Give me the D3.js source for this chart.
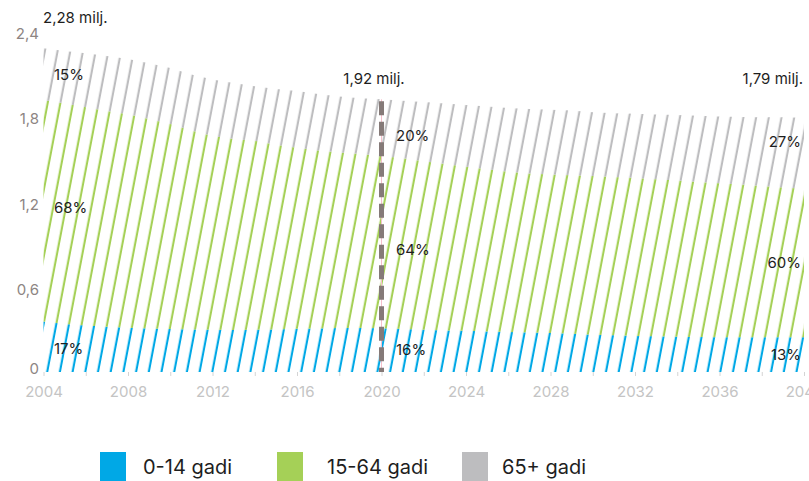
<!DOCTYPE html>
<html>
<head>
<meta charset="utf-8">
<script src="https://cdn.jsdelivr.net/npm/d3@7"></script>
<style>
  body { margin: 0; background: #fff; }
  svg { display: block; font-family: Inter, "Open Sans", sans-serif; }
</style>
</head>
<body>
<div id="chart"></div>
<script>
// population in millions, by year
var years = d3.range(2004, 2041);
var age0_14 = [0.355, 0.338, 0.327, 0.318, 0.311, 0.306, 0.303, 0.299, 0.297, 0.296,
               0.297, 0.300, 0.304, 0.307, 0.309, 0.309, 0.308, 0.303, 0.297, 0.293,
               0.290, 0.286, 0.282, 0.278, 0.274, 0.269, 0.263, 0.258, 0.254, 0.251,
               0.249, 0.247, 0.245, 0.244, 0.244, 0.244, 0.244];
var age15_64 = [1.560, 1.552, 1.537, 1.520, 1.504, 1.476, 1.443, 1.401, 1.365, 1.344,
                1.331, 1.300, 1.276, 1.253, 1.237, 1.226, 1.214, 1.202, 1.188, 1.172,
                1.156, 1.142, 1.128, 1.120, 1.116, 1.116, 1.117, 1.115, 1.112, 1.106,
                1.099, 1.091, 1.084, 1.076, 1.066, 1.056, 1.046];
var age65 = [0.365, 0.370, 0.381, 0.387, 0.390, 0.393, 0.394, 0.395, 0.398, 0.395,
             0.384, 0.393, 0.398, 0.398, 0.394, 0.393, 0.398, 0.405, 0.417, 0.425,
             0.434, 0.442, 0.450, 0.454, 0.457, 0.457, 0.450, 0.450, 0.452, 0.457,
             0.462, 0.467, 0.471, 0.476, 0.484, 0.494, 0.500];

var seriesKeys = ['a', 'b', 'c'];
var seriesNames = ['0-14 gadi', '15-64 gadi', '65+ gadi'];
var colors = ['#00a8e6', '#a5d057', '#bdbdbf'];

var yTicks = [0, 0.6, 1.2, 1.8, 2.4];
var xTicks = d3.range(2004, 2041, 2);
var xLabels = [2004, 2008, 2012, 2016, 2020, 2024, 2028, 2032, 2036, 2040];

// annotations
var markYears = [2004, 2020, 2040];
var totalLabels = ['2,28 milj.', '1,92 milj.', '1,79 milj.'];
var shareLabels = [[17, 16, 13], [68, 64, 60], [15, 20, 27]];

var width = 809,
    height = 481;

var rows = years.map(function(yr, i) {
    return { year: yr, a: age0_14[i], b: age15_64[i], c: age65[i] };
});
var stacked = d3.stack().keys(seriesKeys)(rows);

var x = d3.scaleLinear().domain([2004, 2040]).range([43.5, 804]);
var y = d3.scaleLinear().domain([0, 2.4]).range([372, 31.2]);

var svg = d3.select('#chart').append('svg')
    .attr('width', width)
    .attr('height', height);

// slanted stripe fills, one per series, sharing the same phase
var defs = svg.append('defs');
colors.forEach(function(c, i) {
    defs.append('pattern')
        .attr('id', 'stripe' + i)
        .attr('patternUnits', 'userSpaceOnUse')
        .attr('width', 12.7)
        .attr('height', 20)
        .attr('patternTransform', 'skewX(-10.8)')
        .append('rect')
        .attr('x', 2.7)
        .attr('y', 0)
        .attr('width', 2.2)
        .attr('height', 20)
        .attr('fill', c);
});

var area = d3.area()
    .x(function(d) { return x(d.data.year); })
    .y0(function(d) { return y(d[0]); })
    .y1(function(d) { return y(d[1]); });

svg.append('g').selectAll('path')
    .data(stacked)
    .enter().append('path')
    .attr('d', area)
    .attr('fill', function(d, i) { return 'url(#stripe' + i + ')'; });

// 2020 marker
var iMid = years.indexOf(2020);
var topMid = stacked[2][iMid][1];
svg.append('line')
    .attr('x1', x(2020)).attr('x2', x(2020))
    .attr('y1', y(topMid)).attr('y2', y(0))
    .attr('stroke', '#f6bfcb')
    .attr('stroke-width', 1);
svg.append('line')
    .attr('x1', x(2020)).attr('x2', x(2020))
    .attr('y1', y(topMid) + 2).attr('y2', y(0))
    .attr('stroke', '#857a78')
    .attr('stroke-width', 5)
    .attr('stroke-dasharray', '14,6.5');

// axes
var fmt = d3.formatLocale({ decimal: ',', thousands: ' ', grouping: [3], currency: ['', ''] }).format('.1~f');

var yAxis = svg.append('g')
    .attr('transform', 'translate(39,0)')
    .call(d3.axisLeft(y).tickValues(yTicks).tickSize(0).tickPadding(0).tickFormat(fmt));
yAxis.select('.domain').remove();
yAxis.selectAll('text')
    .attr('fill', '#8d8583')
    .attr('dy', function(d) { return d === 0 ? '0.1em' : '0.5em'; })
    .style('font-size', '15px')
    .style('font-family', 'Inter, sans-serif');

var xAxis = svg.append('g')
    .attr('transform', 'translate(0,' + y(0) + ')')
    .call(d3.axisBottom(x).tickValues(xTicks).tickSize(4).tickPadding(10)
        .tickFormat(function(d) { return xLabels.indexOf(d) >= 0 ? d : ''; }));
xAxis.select('.domain').remove();
xAxis.selectAll('line').attr('stroke', '#d4d4d4');
xAxis.selectAll('text')
    .attr('fill', '#c4c4c4')
    .style('font-size', '15px')
    .style('font-family', 'Inter, sans-serif');

// total labels
var totalPos = [
    { anchor: 'start', dx: -0.5, yy: 23 },
    { anchor: 'middle', dx: -7.5, yy: 84 },
    { anchor: 'end', dx: -1, yy: 84 }
];
svg.append('g').selectAll('text')
    .data(markYears)
    .enter().append('text')
    .attr('x', function(d, i) { return x(d) + totalPos[i].dx; })
    .attr('y', function(d, i) { return totalPos[i].yy; })
    .attr('text-anchor', function(d, i) { return totalPos[i].anchor; })
    .attr('fill', '#1e1e1e')
    .style('font-size', '15px')
    .text(function(d, i) { return totalLabels[i]; });

// share labels, placed at the middle of each band
var shareDx = [10.5, 14.5, -3];
var shareAnchor = ['start', 'start', 'end'];
var shareNudge = [[2, 0, 0], [-3, 8, 0], [1, 8, -11]];
shareLabels.forEach(function(vals, s) {
    markYears.forEach(function(yr, j) {
        var idx = years.indexOf(yr);
        var seg = stacked[s][idx];
        var mid = (y(seg[0]) + y(seg[1])) / 2;
        svg.append('text')
            .attr('x', x(yr) + shareDx[j])
            .attr('y', mid + 5 + shareNudge[s][j])
            .attr('text-anchor', shareAnchor[j])
            .attr('fill', '#1e1e1e')
            .style('font-size', '15px')
            .text(vals[j] + '%');
    });
});

// legend
var legendX = [100, 277, 462];
var legendTextX = [43, 50, 40];
var legend = svg.append('g').selectAll('g')
    .data(seriesNames)
    .enter().append('g')
    .attr('transform', function(d, i) { return 'translate(' + legendX[i] + ',452)'; });
legend.append('rect')
    .attr('width', 26)
    .attr('height', 30)
    .attr('fill', function(d, i) { return colors[i]; });
legend.append('text')
    .attr('x', function(d, i) { return legendTextX[i]; })
    .attr('y', 22)
    .attr('fill', '#1e1e1e')
    .style('font-size', '20px')
    .text(function(d) { return d; });
</script>
</body>
</html>
